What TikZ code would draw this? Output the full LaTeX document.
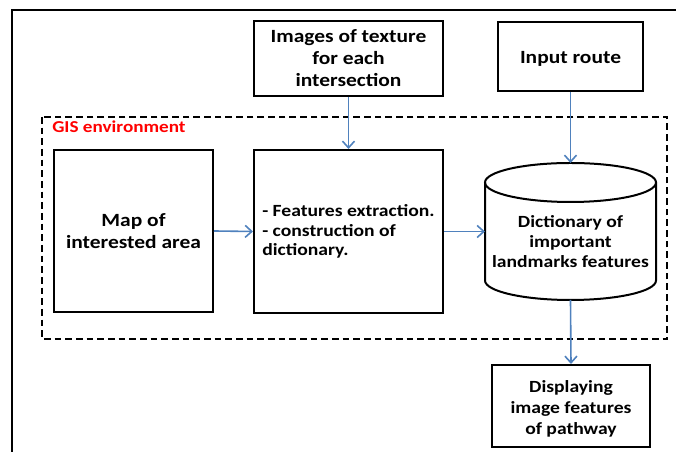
\documentclass[tikz,border=0pt]{standalone}
\usepackage{fontspec}
\setmainfont{Carlito}[FakeStretch=1.15]
\usetikzlibrary{arrows.meta}
\definecolor{arrowblue}{RGB}{79,129,189}
\begin{document}
\begin{tikzpicture}[x=0.75pt,y=0.75pt,
  box/.style={draw=black,line width=1.5pt,font=\bfseries\fontsize{14}{16.5}\selectfont,align=center,inner sep=0pt},
  smalltext/.style={font=\bfseries\fontsize{12.8}{#1}\selectfont},
  flow/.style={draw=arrowblue,line width=1.2pt,-{Straight Barb[length=5pt,width=9pt,line width=1.2pt]}}]
\useasboundingbox (0,0) rectangle (676,452);
% outer frame
\draw[line width=1.5pt] (12,-20) -- (12,442) -- (700,442);
% GIS environment
\draw[line width=1.5pt,dash pattern=on 5pt off 3pt] (42,335) rectangle (667,113);
\node[anchor=west,text=red,font=\bfseries\fontsize{12.5}{14}\selectfont,inner sep=0pt] (gis) at (52,325) {GIS environment};
% boxes
\node[box,minimum width=189*0.75pt,minimum height=75*0.75pt] (img) at (348.5,393.5) {Images of texture\\for each\\intersection};
\node[box,minimum width=145*0.75pt,minimum height=69*0.75pt] (inp) at (570.5,395.5) {\rule{0pt}{12pt}Input route};
\node[box,minimum width=159*0.75pt,minimum height=162*0.75pt] (map) at (133.5,221) {Map of\\interested area};
\node[box,align=left,smalltext=14.6,minimum width=189*0.75pt,minimum height=163*0.75pt] (feat) at (348.5,220.5) {- Features extraction.\\- construction of\\dictionary.};
\node[box,smalltext=16,minimum width=158*0.75pt,minimum height=82*0.75pt] (disp) at (571,46) {\rule{0pt}{13.5pt}Displaying\\image features\\of pathway};
% cylinder
\coordinate (cyltop) at (570.5,289);
\coordinate (cylbot) at (570.5,152);
\draw[line width=1.5pt,fill=white] (485,269.5) -- (485,171.5) arc (180:360:85.5 and 19.5) -- (656,269.5);
\draw[line width=1.5pt] (570.5,269.5) ellipse (85.5 and 19.5);
\node[smalltext=15,align=center,minimum width=171*0.75pt,minimum height=20pt,inner sep=0pt] (cyl) at (570.5,210) {Dictionary of\\important\\landmarks features};
% connectors
\draw[flow] (img.south) -- (img.south |- feat.north);
\draw[flow] (inp.south) -- (cyltop);
\draw[flow] (map.east) -- (feat.west);
\draw[flow] (feat.east) -- (485,220.5);
\draw[flow] (cylbot) -- (disp.north);
\end{tikzpicture}
\end{document}
